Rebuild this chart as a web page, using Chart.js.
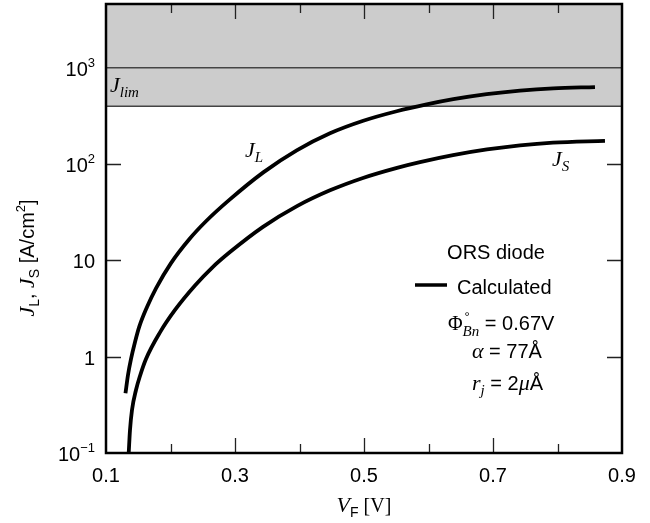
<!DOCTYPE html>
<html>
<head>
<meta charset="utf-8">
<script src="https://cdn.jsdelivr.net/npm/chart.js@4.4.1/dist/chart.umd.min.js"></script>
<style>
  html, body { margin: 0; padding: 0; background: #fff; }
  #wrap { width: 650px; height: 523px; }
</style>
</head>
<body>
<div id="wrap"><canvas id="chart" width="650" height="523"></canvas></div>
<script>
// ---------- DATA ----------
const vfL = [0.1302, 0.1341, 0.1388, 0.1450, 0.1516, 0.1636, 0.1775, 0.2008, 0.2291, 0.2550, 0.2912, 0.3439,
             0.3957, 0.4473, 0.4989, 0.5507, 0.5972, 0.6385, 0.6902, 0.7419, 0.7935, 0.8581];
const jL  = [0.417, 0.646, 0.947, 1.42, 2.05, 3.28, 5.13, 9.38, 16.6, 25.5, 42.5, 82.1,
             139, 209, 282, 354, 417, 472, 533, 581, 613, 631];

const vfS = [0.1352, 0.1372, 0.1403, 0.1465, 0.1527, 0.1620, 0.1837, 0.2070, 0.2380, 0.2643, 0.2922, 0.3434,
             0.3961, 0.4473, 0.4984, 0.5512, 0.5868, 0.6380, 0.6907, 0.7419, 0.7930, 0.8736];
const jS  = [0.1, 0.173, 0.28, 0.451, 0.631, 0.947, 1.79, 3.06, 5.49, 8.38, 12.2, 22.3,
             36.6, 53.4, 71.8, 91.4, 104.8, 123.8, 141.9, 156.6, 167.1, 174.5];

const xTicks = [0.2, 0.3, 0.4, 0.5, 0.6, 0.7, 0.8];
const xMajor = [0.3, 0.5, 0.7];
const xLabels = ["0.1", "0.3", "0.5", "0.7", "0.9"];
const xLabelValues = [0.1, 0.3, 0.5, 0.7, 0.9];

const yTicks = [1, 10, 100];
const yLabelValues = [0.1, 1, 10, 100, 1000];
const yLabels = [["10", "\u22121"], ["1", ""], ["10", ""], ["10", "2"], ["10", "3"]];

const jLim = 400;
const jLine = 1000;

// ---------- FONTS ----------
const SANS = '20px "Liberation Sans", Arial, sans-serif';
const SANS_SUB = '14px "Liberation Sans", Arial, sans-serif';
const SANS_SUP = '13px "Liberation Sans", Arial, sans-serif';
const SERIF = '20px "Liberation Serif", "Times New Roman", serif';
const MATH = 'italic 22px "Liberation Serif", "Times New Roman", serif';
const MATH_SUB = 'italic 15px "Liberation Serif", "Times New Roman", serif';

function drawRuns(ctx, x, y, runs, align) {
    let total = 0;
    runs.forEach(r => { ctx.font = r[1]; total += ctx.measureText(r[0]).width; });
    let cx = x;
    if (align === "right") cx = x - total;
    else if (align === "center") cx = x - total / 2;
    runs.forEach(r => {
        ctx.font = r[1];
        ctx.fillText(r[0], cx, y + (r[2] || 0));
        cx += ctx.measureText(r[0]).width;
    });
    return cx;
}

// ---------- BAND (J_lim) ----------
const bandPlugin = {
    id: "band",
    beforeDatasetsDraw(chart) {
        const { ctx, chartArea: a, scales: { y } } = chart;
        const yl = y.getPixelForValue(jLim);
        const y3 = y.getPixelForValue(jLine);
        ctx.save();
        ctx.fillStyle = "#cccccc";
        ctx.fillRect(a.left, a.top, a.right - a.left, yl - a.top);
        ctx.strokeStyle = "#444";
        ctx.lineWidth = 1.5;
        ctx.beginPath();
        ctx.moveTo(a.left, yl); ctx.lineTo(a.right, yl);
        ctx.moveTo(a.left, y3); ctx.lineTo(a.right, y3);
        ctx.stroke();
        ctx.restore();
    }
};

// ---------- FRAME, TICKS, TEXT ----------
const framePlugin = {
    id: "frame",
    afterDraw(chart) {
        const { ctx, chartArea: a, scales: { x, y } } = chart;
        ctx.save();

        // inward ticks
        ctx.strokeStyle = "#222";
        ctx.lineWidth = 1.3;
        ctx.beginPath();
        xTicks.forEach(v => {
            const px = Math.round(x.getPixelForValue(v)) + 0.5;
            const len = xMajor.includes(v) ? 15 : 9;
            ctx.moveTo(px, a.bottom); ctx.lineTo(px, a.bottom - len);
            ctx.moveTo(px, a.top); ctx.lineTo(px, a.top + len);
        });
        yTicks.forEach(v => {
            const py = Math.round(y.getPixelForValue(v)) + 0.5;
            ctx.moveTo(a.left, py); ctx.lineTo(a.left + 15, py);
            ctx.moveTo(a.right, py); ctx.lineTo(a.right - 15, py);
        });
        ctx.stroke();

        // frame
        ctx.strokeStyle = "#000";
        ctx.lineWidth = 2.5;
        ctx.strokeRect(a.left, a.top, a.right - a.left, a.bottom - a.top);

        ctx.fillStyle = "#000";
        ctx.textBaseline = "alphabetic";
        ctx.textAlign = "left";

        // x tick labels
        xLabelValues.forEach((v, i) => {
            drawRuns(ctx, x.getPixelForValue(v), a.bottom + 29, [[xLabels[i], SANS]], "center");
        });

        // y tick labels
        yLabelValues.forEach((v, i) => {
            const py = y.getPixelForValue(v);
            const lab = yLabels[i];
            const runs = [[lab[0], SANS]];
            if (lab[1]) runs.push([lab[1], SANS_SUP, -9]);
            drawRuns(ctx, a.left - 11, py + 8, runs, "right");
        });

        // x title
        drawRuns(ctx, (a.left + a.right) / 2, 512,
            [["V", MATH], ["F", SANS_SUB, 5], [" [V]", SERIF]], "center");

        // y title
        ctx.save();
        ctx.translate(34, 258);
        ctx.rotate(-Math.PI / 2);
        drawRuns(ctx, 0, 0, [
            ["J", MATH], ["L", SANS_SUB, 5], [", ", SANS],
            ["J", MATH], ["S", SANS_SUB, 5], [" [A/cm", SANS],
            ["2", SANS_SUP, -9], ["]", SANS]
        ], "center");
        ctx.restore();

        // curve labels
        drawRuns(ctx, a.left + 4, 92, [["J", MATH], ["lim", MATH_SUB, 5]], "left");
        drawRuns(ctx, 245, 157, [["J", MATH], ["L", MATH_SUB, 5]], "left");
        drawRuns(ctx, 552, 166, [["J", MATH], ["S", MATH_SUB, 5]], "left");

        // legend block
        drawRuns(ctx, 496, 259, [["ORS diode", SANS]], "center");
        ctx.strokeStyle = "#000";
        ctx.lineWidth = 3.5;
        ctx.beginPath();
        ctx.moveTo(415, 285); ctx.lineTo(447, 285);
        ctx.stroke();
        drawRuns(ctx, 457, 294, [["Calculated", SANS]], "left");

        // Φ°_Bn = 0.67V
        ctx.font = SERIF;
        const phiW = ctx.measureText("\u03A6").width;
        ctx.fillText("\u03A6", 448, 330);
        ctx.font = SANS_SUP;
        ctx.fillText("\u00B0", 448 + phiW + 2, 321);
        const bnEnd = drawRuns(ctx, 448 + phiW, 336, [["Bn", MATH_SUB]], "left");
        drawRuns(ctx, bnEnd, 330, [[" = 0.67V", SANS]], "left");

        drawRuns(ctx, 472, 358, [["\u03B1", MATH], [" = 77\u00C5", SANS]], "left");
        drawRuns(ctx, 472, 390, [["r", MATH], ["j", MATH_SUB, 5], [" = 2", SANS],
            ["\u03BC", MATH], ["\u00C5", SANS]], "left");

        ctx.restore();
    }
};

// ---------- CHART ----------
const toPoints = (xs, ys) => xs.map((v, i) => ({ x: v, y: ys[i] }));

new Chart(document.getElementById("chart").getContext("2d"), {
    type: "line",
    data: {
        datasets: [
            { label: "J_L", data: toPoints(vfL, jL) },
            { label: "J_S", data: toPoints(vfS, jS) }
        ]
    },
    options: {
        responsive: false,
        animation: false,
        devicePixelRatio: 1,
        layout: { padding: { left: 106, right: 28, top: 4, bottom: 70 } },
        plugins: { legend: { display: false }, tooltip: { enabled: false } },
        elements: {
            point: { radius: 0 },
            line: { borderWidth: 3.8, borderColor: "#000", fill: false, cubicInterpolationMode: "monotone" }
        },
        scales: {
            x: { type: "linear", min: 0.1, max: 0.9, display: false },
            y: { type: "logarithmic", min: 0.1, max: 4600, display: false }
        }
    },
    plugins: [bandPlugin, framePlugin]
});
</script>
</body>
</html>
